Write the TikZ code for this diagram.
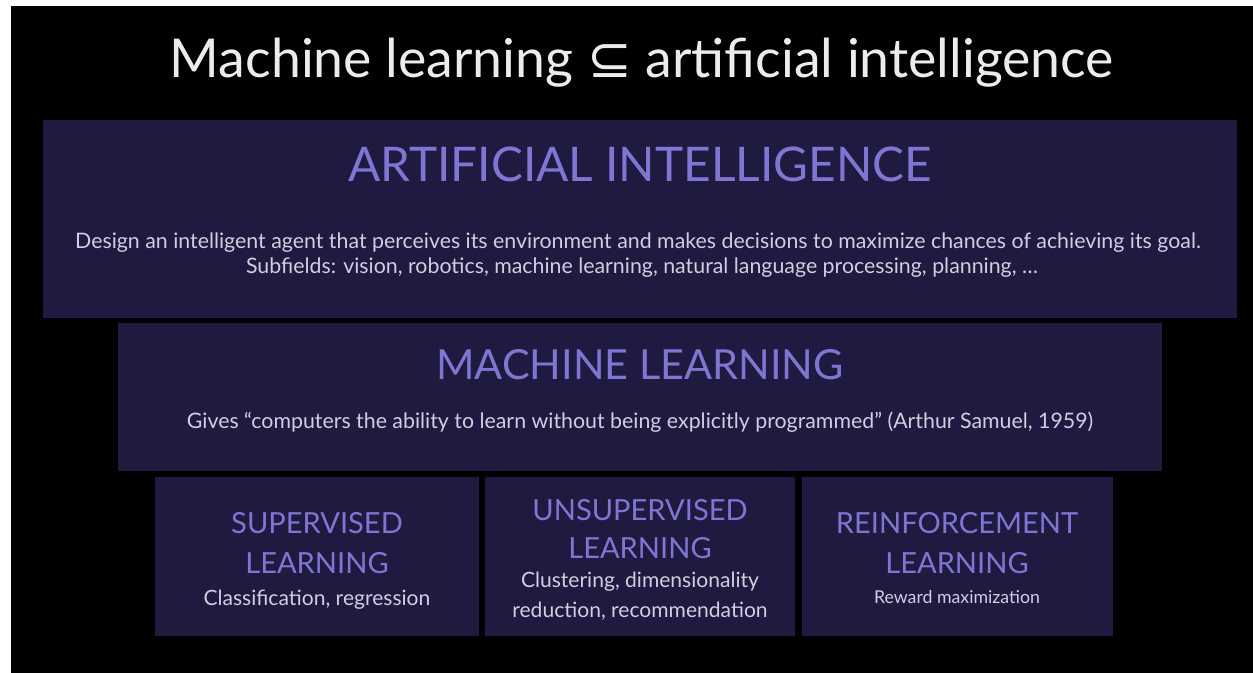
\documentclass[tikz,border=0pt]{standalone}
\usepackage{fontspec}
\setmainfont{Lato}
\newfontfamily\symbfont{DejaVu Sans}
\usetikzlibrary{fit}

\definecolor{boxfill}{RGB}{30,26,64}
\definecolor{headblue}{RGB}{128,117,210}
\definecolor{bodygray}{RGB}{208,206,224}
\definecolor{titlewhite}{RGB}{236,236,236}

\begin{document}
\begin{tikzpicture}[x=0.75pt, y=-0.75pt,
    field/.style={fill=boxfill, draw=none, inner sep=0pt},
    head/.style={text=headblue, anchor=base, inner sep=0pt},
    body/.style={text=bodygray, anchor=base, inner sep=0pt}]
        % Slide area
        \useasboundingbox (0,0) rectangle (1253,673);
        \fill[white] (0,0) rectangle (1253,673);
        \fill[black] (11,6) rectangle (1253,673);

        % Title
        \node[anchor=base, inner sep=0pt, text=titlewhite, font=\fontsize{40.2}{48}\selectfont] (title) at (642,78) {Machine learning {\symbfont ⊆} artificial intelligence};

        % Nested fields (boxes)
        \node[field, fit={(43,120) (1237,318)}] (ai) {};
        \node[field, fit={(118,323) (1162,471)}] (ml) {};
        \node[field, fit={(155,477) (479,636)}] (sup) {};
        \node[field, fit={(485,477) (795,636)}] (unsup) {};
        \node[field, fit={(802,477) (1113,636)}] (rein) {};

        % Artificial intelligence
        \node[head, font=\fontsize{35.8}{43}\selectfont] (aihead) at (640,182) {ARTIFICIAL INTELLIGENCE};
        \node[body, font=\fontsize{16}{19}\selectfont] (aione) at (638,249) {Design an intelligent agent that perceives its environment and makes decisions to maximize chances of achieving its goal.};
        \node[body, font=\fontsize{16}{19}\selectfont] (aitwo) at (642,274) {Subfields: vision, robotics, machine learning, natural language processing, planning, …};

        % Machine learning
        \node[head, font=\fontsize{31.1}{37}\selectfont] (mlhead) at (640,380) {MACHINE LEARNING};
        \node[body, font=\fontsize{16}{19}\selectfont] (mlbody) at (640,429) {Gives ``computers the ability to learn without being explicitly programmed'' (Arthur Samuel, 1959)};

        % Supervised
        \node[head, font=\fontsize{21.8}{26}\selectfont] (suphead) at (317,533) {SUPERVISED};
        \node[head, font=\fontsize{21.8}{26}\selectfont] (suplearn) at (317,573) {LEARNING};
        \node[body, font=\fontsize{15.8}{19}\selectfont] (supbody) at (317,605) {Classification, regression};

        % Unsupervised
        \node[head, font=\fontsize{21.8}{26}\selectfont] (unsuphead) at (640,520) {UNSUPERVISED};
        \node[head, font=\fontsize{21.8}{26}\selectfont] (unsuplearn) at (640,558) {LEARNING};
        \node[body, font=\fontsize{15.8}{19}\selectfont] (unsupone) at (640,587) {Clustering, dimensionality};
        \node[body, font=\fontsize{15.8}{19}\selectfont] (unsuptwo) at (640,617) {reduction, recommendation};

        % Reinforcement
        \node[head, font=\fontsize{21.8}{26}\selectfont] (reinhead) at (957,533) {REINFORCEMENT};
        \node[head, font=\fontsize{21.8}{26}\selectfont] (reinlearn) at (957,573) {LEARNING};
        \node[body, font=\fontsize{13.3}{16}\selectfont] (reinbody) at (957,603) {Reward maximization};
\end{tikzpicture}
\end{document}
